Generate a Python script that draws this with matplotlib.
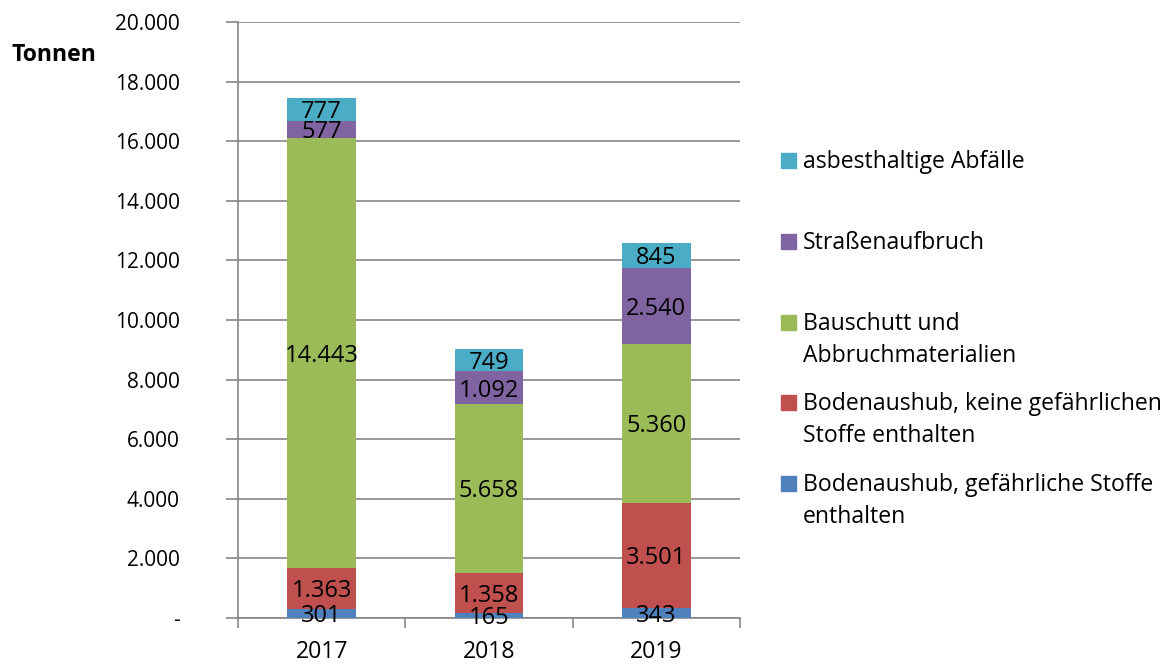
import matplotlib.pyplot as plt
import matplotlib.patches as mpatches
import numpy as np

years = ["2017", "2018", "2019"]
series = [
    "Bodenaushub, gefährliche Stoffe\nenthalten",
    "Bodenaushub, keine gefährlichen\nStoffe enthalten",
    "Bauschutt und\nAbbruchmaterialien",
    "Straßenaufbruch",
    "asbesthaltige Abfälle",
]
boden_gef = [301, 165, 343]
boden_nicht = [1363, 1358, 3501]
bauschutt = [14443, 5658, 5360]
strasse = [577, 1092, 2540]
asbest = [777, 749, 845]
values = [boden_gef, boden_nicht, bauschutt, strasse, asbest]
colors = ["#4F81BD", "#C0504D", "#9BBB59", "#8064A2", "#4BACC6"]
yticks = [0, 2000, 4000, 6000, 8000, 10000, 12000, 14000, 16000, 18000, 20000]

plt.rcParams['font.family'] = ['Open Sans', 'DejaVu Sans']
fs = 16.6


def fmt(v):
    return "-" if v == 0 else f"{v:,}".replace(",", ".")


fig = plt.figure(figsize=(11.72, 6.64), dpi=100)
ax = fig.add_axes([238 / 1172, 1 - 618 / 664, 502 / 1172, 596 / 664])

x = np.arange(len(years))
bottom = np.zeros(len(years))
for vals, col in zip(values, colors):
    bars = ax.bar(x, vals, 0.41, bottom=bottom, color=col, zorder=3)
    for b, v, y0 in zip(bars, vals, bottom):
        ax.annotate(fmt(v), (b.get_x() + b.get_width() / 2, y0 + v / 2),
                    xytext=(0, -2), textcoords="offset points",
                    ha="center", va="center", fontsize=17, zorder=4)
    bottom += np.array(vals)

ax.set_xlim(-0.5, 2.5)
ax.set_ylim(0, 20000)
ax.set_yticks(yticks)
ax.set_yticklabels([fmt(v) for v in yticks], fontsize=15)
ax.yaxis.grid(True, color="#868686", linewidth=1.2, zorder=0)
ax.tick_params(axis="y", length=9, width=1.2, color="#868686", pad=33)

ax.set_xticks([-0.5, 0.5, 1.5, 2.5])
ax.set_xticklabels([])
ax.set_xticks(x, minor=True)
ax.set_xticklabels(years, minor=True, fontsize=fs)
ax.tick_params(axis="x", which="major", length=7, width=1.2, color="#868686")
ax.tick_params(axis="x", which="minor", length=0, pad=16)

for s in ["top", "right"]:
    ax.spines[s].set_visible(False)
for s in ["left", "bottom"]:
    ax.spines[s].set_color("#868686")
    ax.spines[s].set_linewidth(1.2)

fig.text(12 / 1172, 1 - 55 / 664, "Tonnen", fontsize=fs, fontweight="bold",
         ha="left", va="center")

# legend, drawn in reverse order as in the original
leg_y = [160, 241, 322, 402, 483]
for i, (name, col) in enumerate(zip(series[::-1], colors[::-1])):
    yc = leg_y[i]
    fig.add_artist(mpatches.Rectangle((781 / 1172, 1 - (yc + 8) / 664), 15 / 1172, 15 / 664,
                                      color=col, transform=fig.transFigure))
    fig.text(803 / 1172, 1 - (yc - 10) / 664, name, fontsize=fs, ha="left", va="top",
             linespacing=1.45)

fig.savefig("out.png", dpi=100)
